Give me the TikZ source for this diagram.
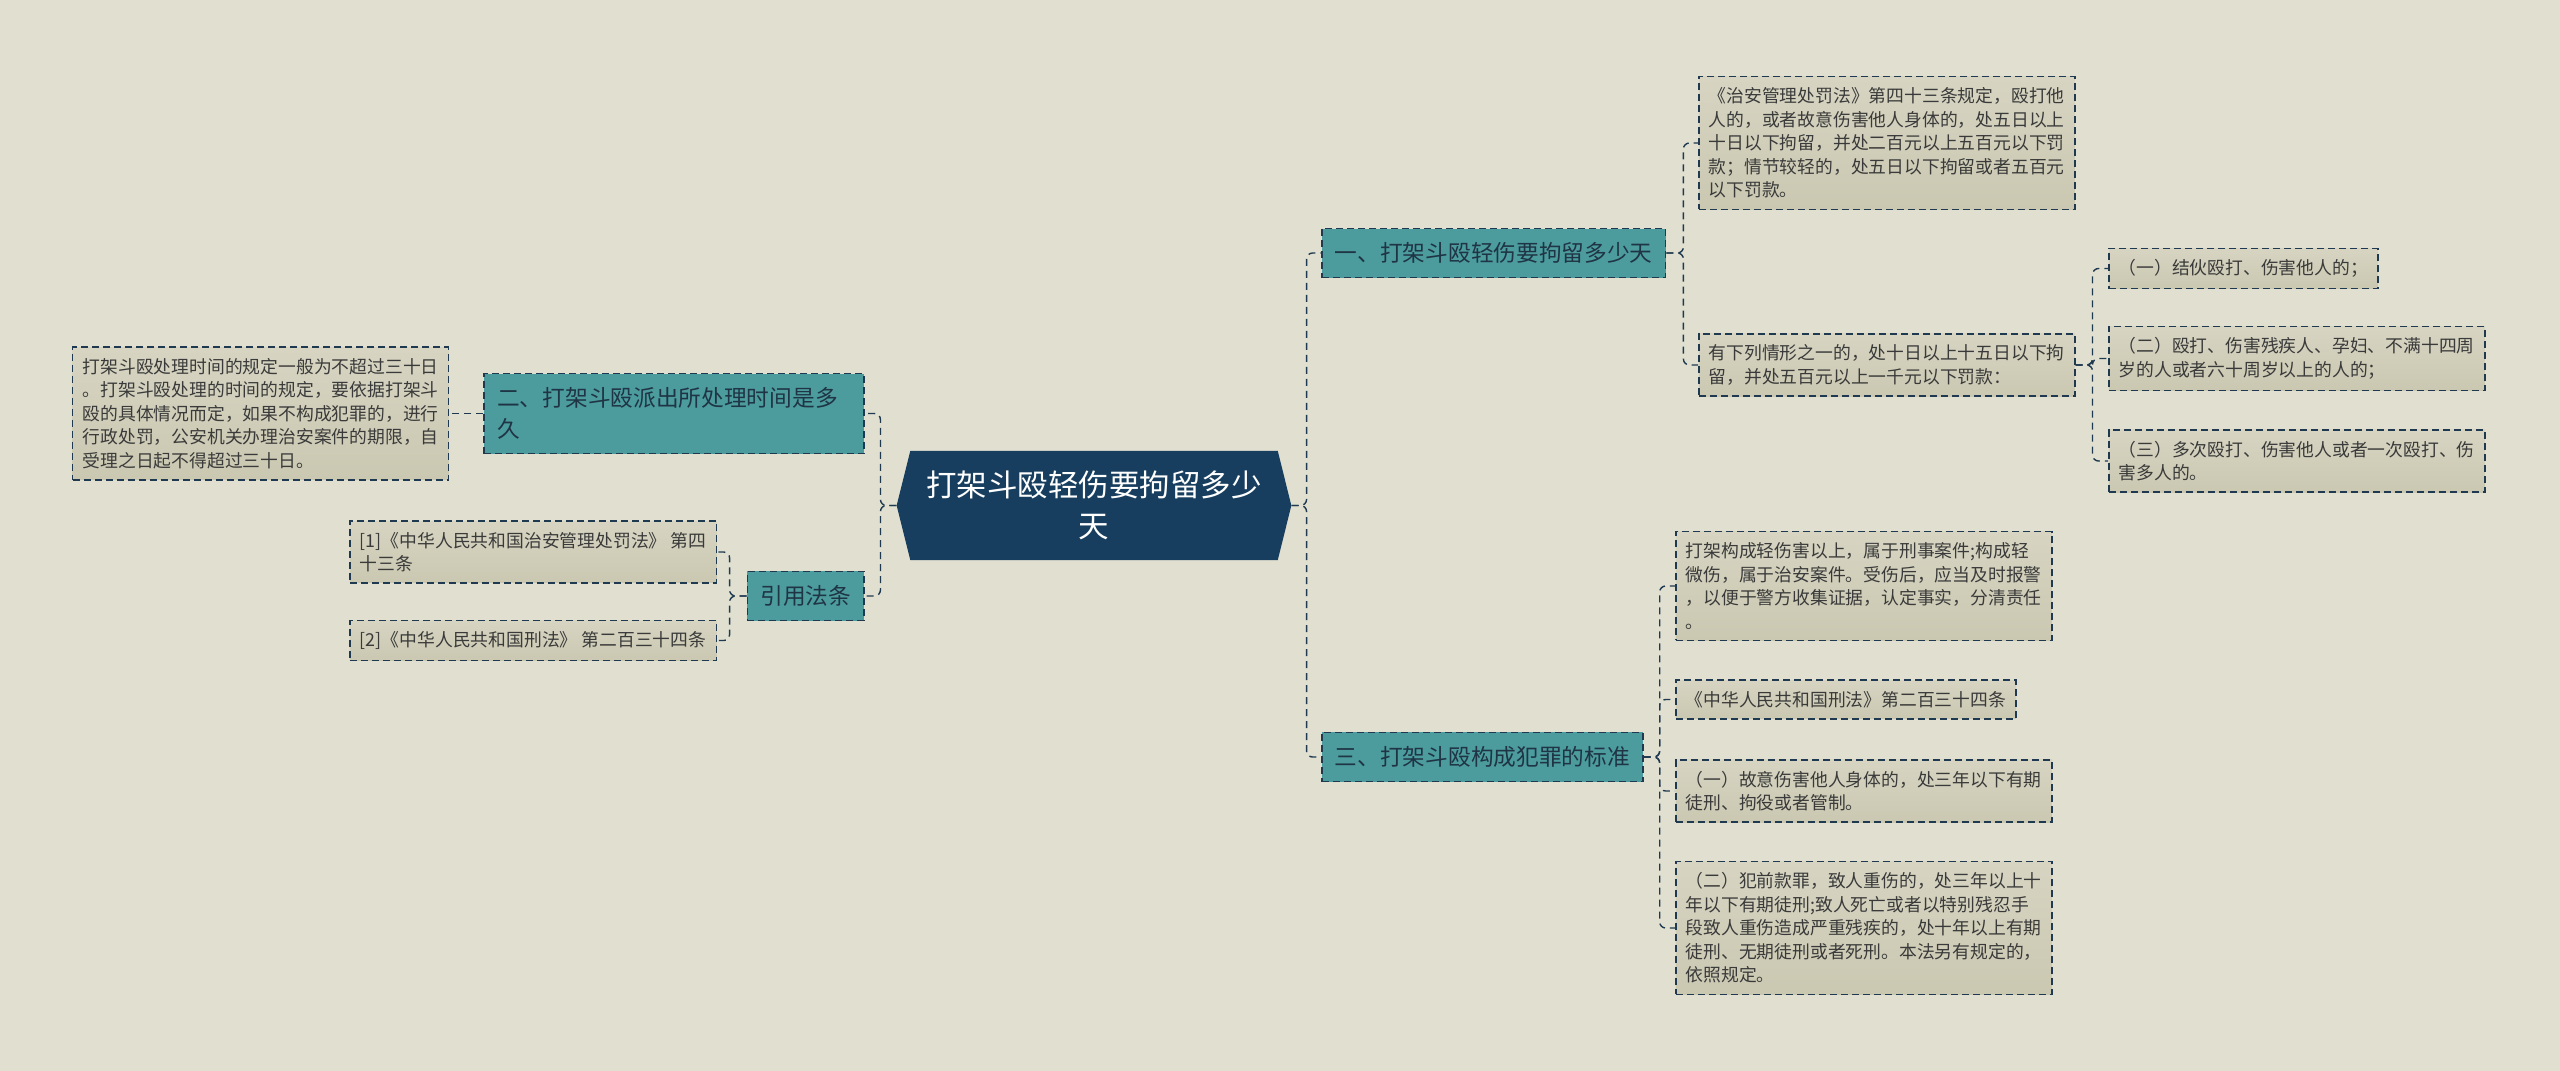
\documentclass[tikz,border=0pt]{standalone}
\usepackage{fontspec}
\setmainfont{Noto Sans CJK SC}
\usepackage{xcolor}
\usepackage{tikz}
\usetikzlibrary{shapes.symbols,positioning}

\definecolor{bgcol}{HTML}{E0DFD0}
\definecolor{rootcol}{HTML}{173E5E}
\definecolor{topiccol}{HTML}{4C9C9E}
\definecolor{notetop}{HTML}{D7D5C2}
\definecolor{notebot}{HTML}{CAC8B1}
\definecolor{edgecol}{HTML}{1F3A50}
\definecolor{inkcol}{HTML}{3A3A3A}
\definecolor{topicink}{HTML}{1F3444}

\begin{document}
\begin{tikzpicture}[x=1pt, y=-1pt,
    rootnode/.style={signal, signal to=east and west, signal pointer angle=152,
        fill=rootcol, text=white, align=center, inner xsep=16pt, inner ysep=20pt,
        font=\fontsize{30.5}{41}\selectfont},
    topicbox/.style={rectangle, draw=edgecol, line width=1.6pt, dash pattern=on 7pt off 4pt,
        fill=topiccol, text=topicink, align=left, inner xsep=13pt, inner ysep=14pt,
        font=\fontsize{22.7}{31}\selectfont},
    notebox/.style={rectangle, draw=edgecol, line width=1.5pt, dash pattern=on 7pt off 4pt,
        top color=notetop, bottom color=notebot, text=inkcol, align=left,
        inner xsep=10pt, inner ysep=11pt, font=\fontsize{17.8}{23.5}\selectfont},
    conn/.style={draw=edgecol, line width=1.4pt, dash pattern=on 7pt off 5pt, rounded corners=6pt}]

    \fill[bgcol] (0,0) rectangle (2560,1071);
    \useasboundingbox (0,0) rectangle (2560,1071);

    % Nodes
    \node [rootnode] (root) at (1094,505.5) {打架斗殴轻伤要拘留多少\\天};

    \node [topicbox, anchor=west] (b1) at (1321,253) {一、打架斗殴轻伤要拘留多少天};
    \node [topicbox, anchor=west] (b3) at (1321,757) {三、打架斗殴构成犯罪的标准};
    \node [topicbox, anchor=east, text width=354pt] (b2) at (865,413.5) {二、打架斗殴派出所处理时间是多\\久};
    \node [topicbox, anchor=east] (b4) at (865,596) {引用法条};

    \node [notebox, anchor=west] (n11) at (1698,143) {《治安管理处罚法》第四十三条规定，殴打他\\人的，或者故意伤害他人身体的，处五日以上\\十日以下拘留，并处二百元以上五百元以下罚\\款；情节较轻的，处五日以下拘留或者五百元\\以下罚款。};
    \node [notebox, anchor=west] (n12) at (1698,365) {有下列情形之一的，处十日以上十五日以下拘\\留，并处五百元以上一千元以下罚款：};
    \node [notebox, anchor=west] (n121) at (2108,268.5) {（一）结伙殴打、伤害他人的；};
    \node [notebox, anchor=west] (n122) at (2108,358.5) {（二）殴打、伤害残疾人、孕妇、不满十四周\\岁的人或者六十周岁以上的人的；};
    \node [notebox, anchor=west] (n123) at (2108,461) {（三）多次殴打、伤害他人或者一次殴打、伤\\害多人的。};

    \node [notebox, anchor=west] (n31) at (1675,586) {打架构成轻伤害以上，属于刑事案件;构成轻\\微伤，属于治安案件。受伤后，应当及时报警\\，以便于警方收集证据，认定事实，分清责任\\。};
    \node [notebox, anchor=west] (n32) at (1675,699.5) {《中华人民共和国刑法》第二百三十四条};
    \node [notebox, anchor=west] (n33) at (1675,791) {（一）故意伤害他人身体的，处三年以下有期\\徒刑、拘役或者管制。};
    \node [notebox, anchor=west] (n34) at (1675,928) {（二）犯前款罪，致人重伤的，处三年以上十\\年以下有期徒刑;致人死亡或者以特别残忍手\\段致人重伤造成严重残疾的，处十年以上有期\\徒刑、无期徒刑或者死刑。本法另有规定的，\\依照规定。};

    \node [notebox, left=34pt of b2] (n21) {打架斗殴处理时间的规定一般为不超过三十日\\。打架斗殴处理的时间的规定，要依据打架斗\\殴的具体情况而定，如果不构成犯罪的，进行\\行政处罚，公安机关办理治安案件的期限，自\\受理之日起不得超过三十日。};
    \node [notebox, anchor=east] (n41) at (717,552) {[1]《中华人民共和国治安管理处罚法》 第四\\十三条};
    \node [notebox, anchor=east] (n42) at (717,640.5) {[2]《中华人民共和国刑法》 第二百三十四条};

    % Paths
    \path [conn] (root.east) -- ++(15,0) |- (b1.west);
    \path [conn] (root.east) -- ++(15,0) |- (b3.west);
    \path [conn] (root.west) -- ++(-16,0) |- (b2.east);
    \path [conn] (root.west) -- ++(-16,0) |- (b4.east);

    \path [conn] (b1.east) -- ++(17,0) |- (n11.west);
    \path [conn] (b1.east) -- ++(17,0) |- (n12.west);
    \path [conn] (n12.east) -- ++(17,0) |- (n121.west);
    \path [conn] (n12.east) -- ++(17,0) |- (n122.west);
    \path [conn] (n12.east) -- ++(17,0) |- (n123.west);

    \path [conn] (b3.east) -- ++(16,0) |- (n31.west);
    \path [conn] (b3.east) -- ++(16,0) |- (n32.west);
    \path [conn] (b3.east) -- ++(16,0) |- (n33.west);
    \path [conn] (b3.east) -- ++(16,0) |- (n34.west);

    \path [conn] (b2.west) -- (n21.east);
    \path [conn] (b4.west) -- ++(-17,0) |- (n41.east);
    \path [conn] (b4.west) -- ++(-17,0) |- (n42.east);

\end{tikzpicture}
\end{document}
